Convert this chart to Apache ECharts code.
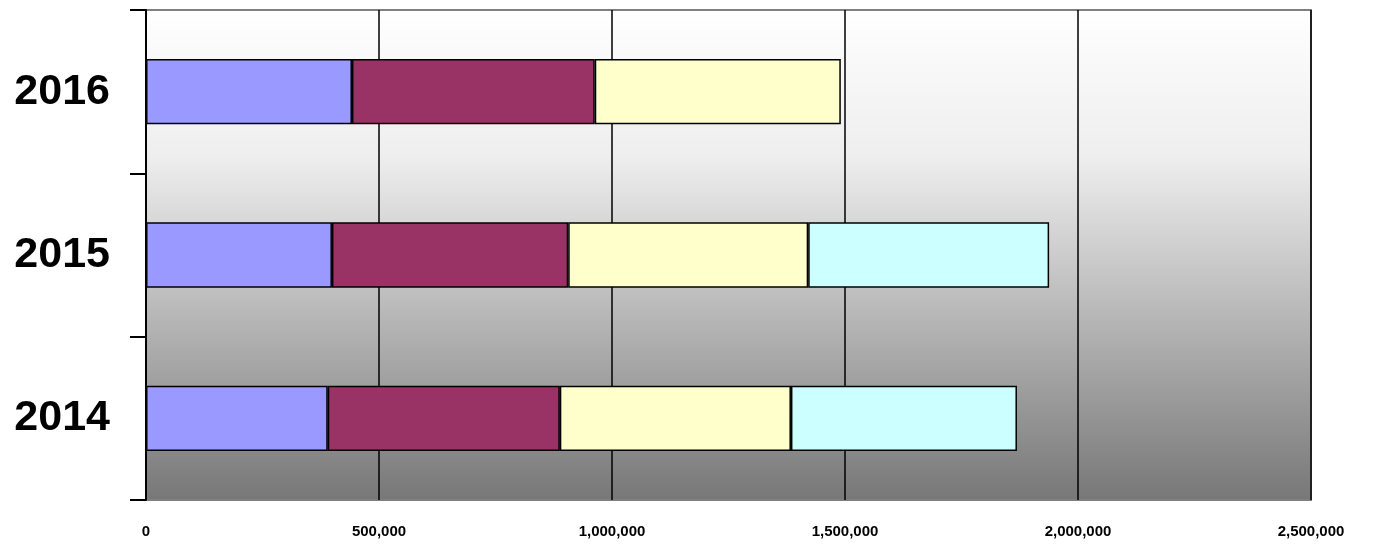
<!DOCTYPE html>
<html><head><meta charset="utf-8">
<script src="https://cdn.jsdelivr.net/npm/echarts@6/dist/echarts.min.js"></script>
<style>html,body{margin:0;padding:0;background:#fff}#c{width:1376px;height:548px}</style>
</head><body><div id="c"></div>
<script>
var years = ['2014', '2015', '2016'];
var s1 = [390000, 399000, 442000];
var s2 = [498000, 507000, 521000];
var s3 = [496000, 515000, 528000];
var s4 = [485000, 517000, null];
var colors = ['#9999ff', '#993366', '#ffffcc', '#ccffff'];

var chart = echarts.init(document.getElementById('c'));
function ser(d, i) {
    return {
        type: 'bar', stack: 'a', data: d, barWidth: '40%',
        itemStyle: {color: colors[i], borderColor: '#000', borderWidth: 1.5}
    };
}
chart.setOption({
    animation: false,
    grid: {
        left: 146, right: 65, top: 10, bottom: 48, show: true,
        borderColor: '#808080', borderWidth: 2,
        backgroundColor: new echarts.graphic.LinearGradient(0, 0, 0, 1, [
            {offset: 0, color: '#ffffff'},
            {offset: 0.3, color: '#eeeeee'},
            {offset: 1, color: '#777777'}
        ])
    },
    xAxis: {
        type: 'value', min: 0, max: 2500000, interval: 500000,
        axisLine: {show: false}, axisTick: {show: false},
        splitLine: {lineStyle: {color: '#000', width: 1.5}},
        axisLabel: {
            fontFamily: 'Liberation Sans', fontWeight: 'bold', fontSize: 15, color: '#000', margin: 24,
            formatter: function (v) { return v.toLocaleString('en-US'); }
        }
    },
    yAxis: {
        type: 'category', data: years, z: 10,
        axisLine: {show: true, onZero: false, lineStyle: {color: '#000', width: 2}},
        axisTick: {show: true, length: 16, lineStyle: {color: '#000', width: 2}},
        axisLabel: {fontFamily: 'Liberation Sans', fontWeight: 'bold', fontSize: 43, color: '#000', margin: 36, padding: [6, 0, 0, 0]}
    },
    series: [ser(s1, 0), ser(s2, 1), ser(s3, 2), ser(s4, 3)]
});
</script></body></html>
